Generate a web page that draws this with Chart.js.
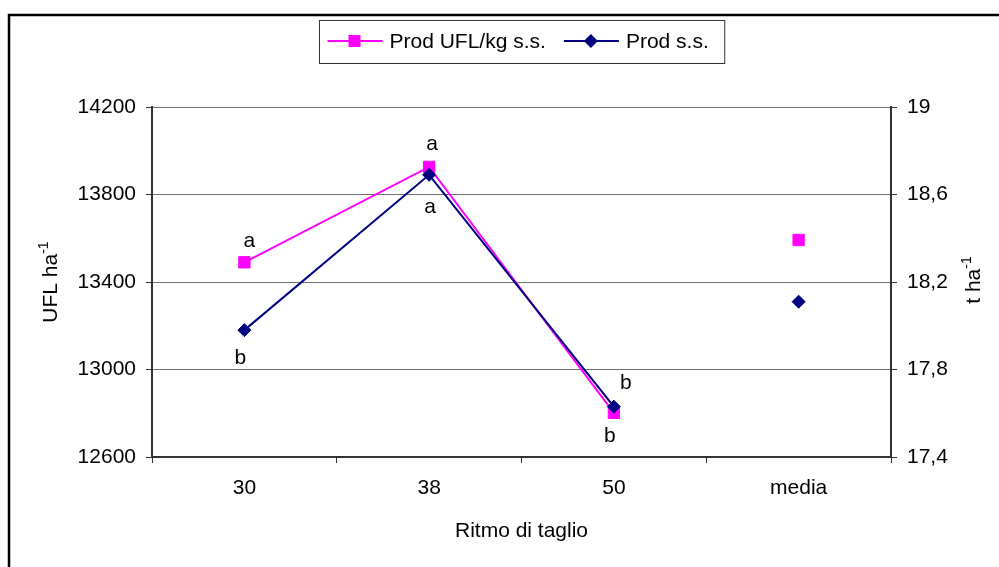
<!DOCTYPE html>
<html lang="it">
<head>
<meta charset="UTF-8">
<title>Ritmo di taglio</title>
<script src="https://cdn.jsdelivr.net/npm/chart.js"></script>
<style>
    html, body { margin: 0; padding: 0; background: #fff; overflow: hidden; }
    #wrap { width: 999px; height: 567px; }
</style>
</head>
<body>
<div id="wrap"><canvas id="chart" width="999" height="567"></canvas></div>
<script>
    // chart values
    const categories = ['30', '38', '50', 'media'];
    const prodUfl = [13490, 13926, 12802, 13592];   // UFL ha-1 (left axis)
    const prodSs = [17.98, 18.69, 17.63, 18.11];    // t ha-1 (right axis)
    const uflLetters = ['a', 'a', 'b', ''];
    const ssLetters = ['b', 'a', 'b', ''];
    const leftTicks = [12600, 13000, 13400, 13800, 14200];
    const rightTicks = [17.4, 17.8, 18.2, 18.6, 19];
    const rightTickLabels = ['17,4', '17,8', '18,2', '18,6', '19'];

    const FONT = '"Liberation Sans", Arial, sans-serif';
    const AXIS = '#333';

    Chart.defaults.font.family = FONT;
    Chart.defaults.font.size = 21;
    Chart.defaults.color = '#000';

    // break the line before "media"
    const noMediaLink = c => c.p1DataIndex === 3 ? 'rgba(0,0,0,0)' : undefined;

    function drawMarker(ctx, style, x, y, color) {
        ctx.save();
        ctx.fillStyle = color;
        ctx.beginPath();
        if (style === 'rect') {
            ctx.rect(x - 6, y - 6, 12, 12);
        } else {
            ctx.moveTo(x, y - 7);
            ctx.lineTo(x + 7, y);
            ctx.lineTo(x, y + 7);
            ctx.lineTo(x - 7, y);
            ctx.closePath();
        }
        ctx.fill();
        ctx.restore();
    }

    // rotated axis title with a "-1" superscript, baseline on the right side
    function drawRotTitle(ctx, main, sup, baseX, cy) {
        ctx.save();
        ctx.font = '21px ' + FONT;
        const w1 = ctx.measureText(main).width;
        ctx.font = '14px ' + FONT;
        const w2 = ctx.measureText(sup).width;
        ctx.translate(baseX, cy);
        ctx.rotate(-Math.PI / 2);
        ctx.fillStyle = '#000';
        ctx.textBaseline = 'alphabetic';
        ctx.textAlign = 'left';
        const start = -(w1 + w2) / 2;
        ctx.font = '21px ' + FONT;
        ctx.fillText(main, start, 0);
        ctx.font = '14px ' + FONT;
        ctx.fillText(sup, start + w1, -9);
        ctx.restore();
    }

    const decorations = {
        id: 'decorations',
        beforeDraw(chart) {
            const ctx = chart.ctx;
            ctx.save();
            ctx.fillStyle = '#fff';
            ctx.fillRect(0, 0, chart.width, chart.height);
            // outer frame of the chart object
            ctx.strokeStyle = '#000';
            ctx.lineWidth = 2.5;
            ctx.beginPath();
            ctx.moveTo(9, chart.height + 5);
            ctx.lineTo(9, 15);
            ctx.lineTo(chart.width + 5, 15);
            ctx.stroke();
            ctx.restore();
        },
        afterDraw(chart) {
            const ctx = chart.ctx;
            const area = chart.chartArea;
            const ds = chart.data.datasets;

            // legend box
            ctx.save();
            ctx.font = '21px ' + FONT;
            const widths = ds.map(d => ctx.measureText(d.label).width);
            const boxW = 8 + 55 + 7 + widths[0] + 18 + 55 + 7 + widths[1] + 16;
            const boxX = Math.round((area.left + area.right) / 2 - boxW / 2) + 0.5;
            const boxY = 20.5, boxH = 43, midY = 41;
            ctx.fillStyle = '#fff';
            ctx.fillRect(boxX, boxY, boxW, boxH);
            ctx.strokeStyle = AXIS;
            ctx.lineWidth = 1;
            ctx.strokeRect(boxX, boxY, boxW, boxH);
            let x = boxX + 8;
            ds.forEach((d, i) => {
                ctx.strokeStyle = d.borderColor;
                ctx.lineWidth = 2;
                ctx.beginPath();
                ctx.moveTo(x, midY);
                ctx.lineTo(x + 55, midY);
                ctx.stroke();
                drawMarker(ctx, d.pointStyle, x + 27, midY, d.borderColor);
                ctx.fillStyle = '#000';
                ctx.textBaseline = 'middle';
                ctx.textAlign = 'left';
                ctx.fillText(d.label, x + 62, midY + 1);
                x += 62 + widths[i] + 18;
            });
            ctx.restore();

            // significance letters next to the points
            const offsets = [
                [[5, -15], [3, -17], [-4, 29], null],
                [[-4, 34], [1, 38], [12, -18], null]
            ];
            const letters = [uflLetters, ssLetters];
            ctx.save();
            ctx.font = '21px ' + FONT;
            ctx.fillStyle = '#000';
            ctx.textAlign = 'center';
            ctx.textBaseline = 'alphabetic';
            letters.forEach((arr, di) => {
                const pts = chart.getDatasetMeta(di).data;
                arr.forEach((txt, j) => {
                    if (!txt || !offsets[di][j]) return;
                    const [dx, dy] = offsets[di][j];
                    ctx.fillText(txt, pts[j].x + dx, pts[j].y + dy);
                });
            });
            ctx.restore();

            // axis titles
            const cy = (area.top + area.bottom) / 2;
            drawRotTitle(ctx, 'UFL ha', '-1', 57, cy);
            drawRotTitle(ctx, 't ha', '-1', 980, cy - 2);
            ctx.save();
            ctx.font = '21px ' + FONT;
            ctx.fillStyle = '#000';
            ctx.textAlign = 'center';
            ctx.textBaseline = 'middle';
            ctx.fillText('Ritmo di taglio', (area.left + area.right) / 2, 531);
            ctx.restore();
        }
    };

    const ctx = document.getElementById('chart').getContext('2d');
    new Chart(ctx, {
        type: 'line',
        data: {
            labels: categories,
            datasets: [
                {
                    label: 'Prod UFL/kg s.s.',
                    data: prodUfl,
                    yAxisID: 'yL',
                    borderColor: '#FF00FF',
                    backgroundColor: '#FF00FF',
                    borderWidth: 2,
                    pointStyle: 'rect',
                    pointRadius: 8,
                    pointHoverRadius: 8,
                    pointBorderWidth: 1,
                    tension: 0,
                    order: 1,
                    segment: { borderColor: noMediaLink }
                },
                {
                    label: 'Prod s.s.',
                    data: prodSs,
                    yAxisID: 'yR',
                    borderColor: '#000080',
                    backgroundColor: '#000080',
                    borderWidth: 2,
                    pointStyle: 'rectRot',
                    pointRadius: 6.5,
                    pointHoverRadius: 6.5,
                    pointBorderWidth: 1,
                    tension: 0,
                    order: 0,
                    segment: { borderColor: noMediaLink }
                }
            ]
        },
        options: {
            responsive: false,
            animation: false,
            events: [],
            layout: { padding: { top: 107, left: 0, right: 0, bottom: 0 } },
            plugins: {
                legend: { display: false },
                tooltip: { enabled: false }
            },
            scales: {
                x: {
                    type: 'category',
                    offset: true,
                    grid: { offset: true, drawOnChartArea: false, tickLength: 6, tickColor: AXIS },
                    border: { color: AXIS, width: 2 },
                    ticks: { padding: 13, maxRotation: 0 },
                    afterFit: s => { s.height = 110; }
                },
                yL: {
                    position: 'left',
                    min: leftTicks[0],
                    max: leftTicks[leftTicks.length - 1],
                    afterBuildTicks: s => { s.ticks = leftTicks.map(v => ({ value: v })); },
                    grid: { color: '#707070', tickLength: 6, tickColor: AXIS },
                    border: { color: AXIS, width: 2 },
                    ticks: { padding: 10, callback: v => String(v) },
                    afterFit: s => { s.width = 152; }
                },
                yR: {
                    position: 'right',
                    min: rightTicks[0],
                    max: rightTicks[rightTicks.length - 1],
                    afterBuildTicks: s => { s.ticks = rightTicks.map(v => ({ value: v })); },
                    grid: { drawOnChartArea: false, tickLength: 6, tickColor: AXIS },
                    border: { color: AXIS, width: 2 },
                    ticks: { padding: 10, callback: v => rightTickLabels[rightTicks.indexOf(v)] },
                    afterFit: s => { s.width = 108; }
                }
            }
        },
        plugins: [decorations]
    });
</script>
</body>
</html>
